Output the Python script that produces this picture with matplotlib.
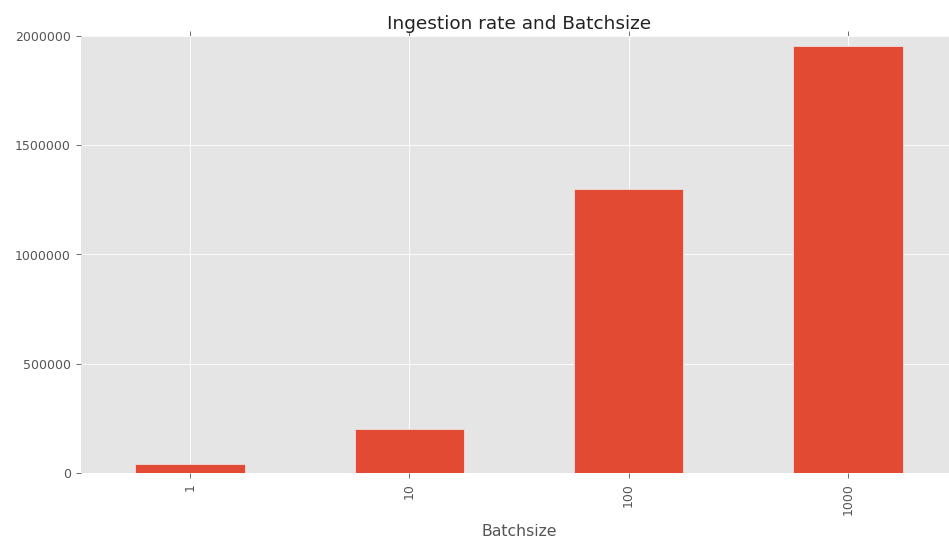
import matplotlib
matplotlib.use("Agg")
import matplotlib.pyplot as plt

categories = ["1", "10", "100", "1000"]
values = [40000, 200000, 1300000, 1955000]
y_ticks = [0, 500000, 1000000, 1500000, 2000000]

W, H = 949, 539
fig = plt.figure(figsize=(W / 100, H / 100), dpi=100)
left, right, top, bottom = 80.5, 957.5, 36, 473
ax = fig.add_axes([left / W, (H - bottom) / H, (right - left) / W, (bottom - top) / H])

ax.set_facecolor("#E5E5E5")
x = range(len(categories))
ax.bar(x, values, width=0.5, color="#E24A33", edgecolor="#EEEEEE", linewidth=0.5, zorder=3)
ax.set_xlim(-0.5, len(categories) - 0.5)
ax.set_ylim(0, 2000000)
ax.set_yticks(y_ticks)
ax.set_yticklabels([str(v) for v in y_ticks])
ax.set_xticks(list(x))
ax.set_xticklabels(categories, rotation=90)
ax.grid(True, color="white", linewidth=0.7, alpha=0.9, zorder=0)
ax.set_axisbelow(True)
for s in ax.spines.values():
    s.set_visible(False)
ax.tick_params(axis="both", direction="out", color="#555555", labelcolor="#555555",
               labelsize=9, length=3.5, width=0.6)
ax.tick_params(axis="x", top=True, labeltop=False)
ax.tick_params(axis="y", right=True, labelright=False)
ax.set_title("Ingestion rate and Batchsize", fontsize=13.3, color="#222222", pad=5)
ax.set_xlabel("Batchsize", fontsize=11.3, color="#555555", labelpad=7)

fig.savefig("out.png", dpi=100)
